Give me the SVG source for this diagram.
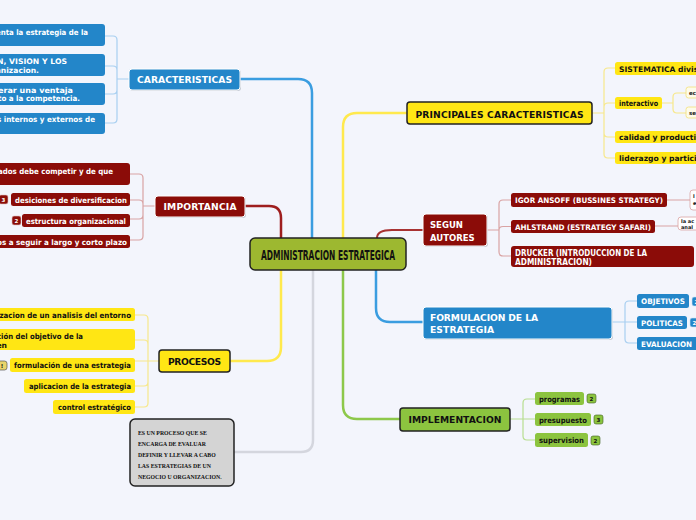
<svg xmlns="http://www.w3.org/2000/svg" width="696" height="520" viewBox="0 0 696 520">
<style>
.t{font-family:"DejaVu Sans",Verdana,"Liberation Sans",sans-serif;font-weight:bold}
.s7{font-size:7.6px}
.s9{font-size:9.2px}
.w{fill:#ffffff}
.k{fill:#111111}
.bl{fill:#2386c9}
.rd{fill:#8b0c08}
.ye{fill:#ffe614}
.gr{fill:#8cc43f}
.main{stroke:#ffffff;stroke-width:1}
.blk{stroke:#222222;stroke-width:1.5}
.c{fill:none;stroke-linecap:round}
.cb{stroke:#a8cff0;stroke-width:1.2}
.cr{stroke:#d9a3a3;stroke-width:1.2}
.cy{stroke:#f7e88a;stroke-width:1.2}
.cg{stroke:#b8de90;stroke-width:1.2}
.sh{fill:#9aa3b0;opacity:0.5}
.bd{font-size:5.5px;text-anchor:middle}
</style>
<rect x="0" y="0" width="696" height="520" fill="#f3f5fc"/>
<g id="connectors">
<path class="c" d="M312,238 V93 Q312,79 298,79 H240" stroke="#3a9de0" stroke-width="2.5"/>
<path class="c" d="M343,238 V127 Q343,113 357,113 H407" stroke="#ffe94d" stroke-width="2.5"/>
<path class="c" d="M281,238 V218 Q281,206 269,206 H245" stroke="#9e1e1e" stroke-width="2.5"/>
<path class="c" d="M377,238 C377,232 382,230 392,230 H423" stroke="#a83232" stroke-width="2"/>
<path class="c" d="M281,270 V347 Q281,361 267,361 H230" stroke="#ffe94d" stroke-width="2.5"/>
<path class="c" d="M313,270 V440 Q313,452 301,452 H234" stroke="#d4d6de" stroke-width="2.5"/>
<path class="c" d="M343,270 V405 Q343,419 357,419 H400" stroke="#8dc84a" stroke-width="2.5"/>
<path class="c" d="M376,270 V308 Q376,322 390,322 H423" stroke="#3a9de0" stroke-width="2.5"/>
<path class="c cb" d="M129,79 H117 M117,79 V40 Q117,36 113,36 H105 M117,79 V70 Q117,66 113,66 H105 M117,79 V90 Q117,94 113,94 H105 M117,79 V119 Q117,123 113,123 H105"/>
<path class="c cr" d="M155,206 H143 M143,206 V178 Q143,174 139,174 H130 M143,206 V204 Q143,200 139,200 H130 M143,206 V215 Q143,219 139,219 H130 M143,206 V236 Q143,240 139,240 H130"/>
<path class="c cy" d="M159,361 H148 M148,361 V319 Q148,315 144,315 H135 M148,361 V344 Q148,340 144,340 H135 M148,361 H135 M148,361 V382 Q148,386 144,386 H135 M148,361 V403 Q148,407 144,407 H135"/>
<path class="c cy" d="M592,113 H604 M604,113 V72 Q604,68 608,68 H615 M604,113 V107 Q604,103 608,103 H615 M604,113 V133 Q604,137 608,137 H615 M604,113 V154 Q604,158 608,158 H615"/>
<path class="c cy" d="M662,103 H673 M673,103 V97 Q673,93 677,93 H686 M673,103 V109 Q673,113 677,113 H686"/>
<path class="c cr" d="M487,230 H499 M499,230 V204 Q499,200 503,200 H511 M499,230 V230 Q499,226.5 503,226.5 H511 M499,230 V252 Q499,256 503,256 H511"/>
<path class="c cr" d="M667,200 H690 M655,226 H678"/>
<path class="c cb" d="M612,322 H625 M625,322 V305 Q625,301 629,301 H637 M625,322 H637 M625,322 V339 Q625,343 629,343 H637"/>
<path class="c cg" d="M510,419 H523 M523,419 V403 Q523,399 527,399 H535 M523,419 H535 M523,419 V436 Q523,440 527,440 H535"/>
</g>
<g id="central">
<rect x="250" y="238" width="156" height="32" rx="5" fill="#9db830" class="blk"/>
<text x="328" y="259.5" text-anchor="middle" font-family="'DejaVu Sans Condensed','DejaVu Sans',sans-serif" font-stretch="condensed" font-weight="bold" font-size="14.5" fill="#111" textLength="134" lengthAdjust="spacingAndGlyphs">ADMINISTRACION ESTRATEGICA</text>
</g>
<g id="caracteristicas">
<rect x="130" y="70" width="111" height="21" rx="3" class="sh"/>
<rect x="129" y="69" width="111" height="21" rx="3" class="bl main"/>
<text x="184.5" y="82.5" text-anchor="middle" class="t s9 w" textLength="95">CARACTERISTICAS</text>
</g>
<g id="car1"><rect x="-10" y="24" width="115" height="22" rx="3" class="bl"/><text x="88" y="35" text-anchor="end" class="t s7 w" textLength="92" lengthAdjust="spacingAndGlyphs">enta la estrategia de la</text></g>
<g id="car2"><rect x="-10" y="54" width="115" height="22" rx="3" class="bl"/><text x="67" y="64" text-anchor="end" class="t s7 w" textLength="70" lengthAdjust="spacingAndGlyphs">N, VISION Y LOS</text><text x="39" y="73" text-anchor="end" class="t s7 w">anizacion.</text></g>
<g id="car3"><rect x="-10" y="83" width="115" height="22" rx="3" class="bl"/><text x="73" y="93" text-anchor="end" class="t s7 w" textLength="75" lengthAdjust="spacingAndGlyphs">erar una ventaja</text><text x="80" y="101" text-anchor="end" class="t s7 w" textLength="82" lengthAdjust="spacingAndGlyphs">to a la competencia.</text></g>
<g id="car4"><rect x="-10" y="113" width="115" height="21" rx="3" class="bl"/><text x="95" y="122" text-anchor="end" class="t s7 w" textLength="98" lengthAdjust="spacingAndGlyphs">s internos y externos de</text></g>
<g id="importancia">
<rect x="156" y="197" width="90" height="21" rx="3" class="sh"/>
<rect x="155" y="196" width="90" height="21" rx="3" class="rd main"/>
<text x="200" y="209.5" text-anchor="middle" class="t s9 w" textLength="73">IMPORTANCIA</text>
</g>
<g id="imp1"><rect x="-10" y="163" width="140" height="22" rx="3" class="rd"/><text x="113" y="174" text-anchor="end" class="t s7 w" textLength="115" lengthAdjust="spacingAndGlyphs">ados debe competir y de que</text></g>
<g id="imp2"><rect x="11" y="193" width="119" height="13" rx="2.5" class="rd"/><text x="15" y="202.5" class="t s7 w" textLength="112" lengthAdjust="spacingAndGlyphs">desiciones de diversificacion</text>
<rect x="-1" y="195" width="9" height="9" rx="2" class="rd" stroke="#e0c0c0" stroke-width="0.6"/><text x="3.5" y="201.8" class="t bd w">3</text></g>
<g id="imp3"><rect x="22" y="214" width="108" height="13" rx="2.5" class="rd"/><text x="26" y="223.5" class="t s7 w" textLength="100" lengthAdjust="spacingAndGlyphs">estructura organizacional</text>
<rect x="12" y="216" width="9" height="9" rx="2" class="rd" stroke="#e0c0c0" stroke-width="0.6"/><text x="16.5" y="222.8" class="t bd w">2</text></g>
<g id="imp4"><rect x="-10" y="235" width="140" height="13" rx="2.5" class="rd"/><text x="127" y="244.5" text-anchor="end" class="t s7 w" textLength="130" lengthAdjust="spacingAndGlyphs">os a seguir a largo y corto plazo</text></g>
<g id="procesos">
<rect x="159" y="350" width="71" height="22" rx="3" class="ye blk"/>
<text x="194.5" y="364.5" text-anchor="middle" class="t s9 k" textLength="53">PROCESOS</text>
</g>
<g id="pro1"><rect x="-10" y="308" width="145" height="13" rx="2.5" class="ye"/><text x="131" y="317.5" text-anchor="end" class="t s7 k" textLength="134" lengthAdjust="spacingAndGlyphs">izacion de un analisis del entorno</text></g>
<g id="pro2"><rect x="-10" y="329" width="145" height="21" rx="3" class="ye"/><text x="83" y="339" text-anchor="end" class="t s7 k" textLength="86" lengthAdjust="spacingAndGlyphs">ción del objetivo de la</text><text x="7" y="347.5" text-anchor="end" class="t s7 k">en</text></g>
<g id="pro3"><rect x="10" y="358" width="125" height="14" rx="2.5" class="ye"/><text x="14" y="367.5" class="t s7 k" textLength="117" lengthAdjust="spacingAndGlyphs">formulación de una estrategia</text>
<rect x="-3" y="361" width="10" height="9" rx="2.5" fill="#e8d46a" stroke="#555" stroke-width="0.7"/><text x="2" y="368" class="t bd k">!</text></g>
<g id="pro4"><rect x="24" y="379" width="111" height="14" rx="2.5" class="ye"/><text x="29" y="388.5" class="t s7 k" textLength="102" lengthAdjust="spacingAndGlyphs">aplicacion de la estrategia</text></g>
<g id="pro5"><rect x="53" y="400" width="82" height="14" rx="2.5" class="ye"/><text x="58" y="409.5" class="t s7 k" textLength="73" lengthAdjust="spacingAndGlyphs">control estratégico</text></g>
<g id="nota">
<rect x="130" y="419" width="104" height="67" rx="5" fill="#d4d4d4" class="blk"/>
<g font-family="'Liberation Serif','Times New Roman',serif" font-weight="bold" font-size="5.8" fill="#111">
<text x="138" y="435">ES UN PROCESO QUE SE</text>
<text x="138" y="445.5">ENCARGA DE EVALUAR</text>
<text x="138" y="456.5">DEFINIR Y LLEVAR A CABO</text>
<text x="138" y="467.5">LAS ESTRATEGIAS DE UN</text>
<text x="138" y="478.5">NEGOCIO U ORGANIZACION.</text>
</g>
</g>
<g id="principales">
<rect x="407" y="102" width="185" height="22" rx="3" class="ye blk"/>
<text x="499.5" y="117.5" text-anchor="middle" class="t s9 k" textLength="168">PRINCIPALES CARACTERISTICAS</text>
</g>
<g id="pri1"><rect x="615" y="62" width="100" height="13" rx="2.5" class="ye"/><text x="619" y="71.5" class="t s7 k">SISTEMATICA divisi</text></g>
<g id="pri2"><rect x="615" y="97" width="47" height="12" rx="2.5" class="ye"/><text x="619" y="106" class="t s7 k" textLength="39" lengthAdjust="spacingAndGlyphs">interactivo</text></g>
<g id="pri2a"><rect x="686" y="87" width="20" height="11" rx="2.5" fill="#fdfbea" stroke="#f3e17a" stroke-width="0.8"/><text x="689" y="94.5" class="t k" font-size="5.5">ec</text></g>
<g id="pri2b"><rect x="686" y="107" width="20" height="11" rx="2.5" fill="#fdfbea" stroke="#f3e17a" stroke-width="0.8"/><text x="689" y="114.5" class="t k" font-size="5.5">se</text></g>
<g id="pri3"><rect x="615" y="131" width="90" height="12" rx="2.5" class="ye"/><text x="619" y="140" class="t s7 k">calidad y productivi</text></g>
<g id="pri4"><rect x="615" y="152" width="90" height="12" rx="2.5" class="ye"/><text x="619" y="161" class="t s7 k">liderazgo y participa</text></g>
<g id="segun">
<rect x="424" y="215" width="64" height="32" rx="3" class="sh"/>
<rect x="423" y="214" width="64" height="32" rx="3" class="rd main"/>
<text x="430" y="228" class="t w" font-size="8.5">SEGUN</text>
<text x="430" y="241" class="t w" font-size="8.5">AUTORES</text>
</g>
<g id="aut1"><rect x="511" y="193" width="156" height="14" rx="2.5" class="rd"/><text x="515" y="203" class="t s7 w" textLength="148" lengthAdjust="spacingAndGlyphs">IGOR ANSOFF (BUSSINES STRATEGY)</text></g>
<g id="aut1a"><rect x="690" y="190" width="14" height="20" rx="3" fill="#ffffff" stroke="#d9a3a3" stroke-width="0.8"/><text x="693" y="198" class="t k" font-size="5">l</text><text x="693" y="205" class="t k" font-size="5">e</text></g>
<g id="aut2"><rect x="511" y="220" width="144" height="13" rx="2.5" class="rd"/><text x="515" y="229.5" class="t s7 w" textLength="136" lengthAdjust="spacingAndGlyphs">AHLSTRAND (ESTRATEGY SAFARI)</text></g>
<g id="aut2a"><rect x="678" y="217" width="25" height="13" rx="3" fill="#ffffff" stroke="#d9a3a3" stroke-width="0.8"/><text x="681" y="223" class="t k" font-size="5">la ac</text><text x="681" y="228.5" class="t k" font-size="5">anal</text></g>
<g id="aut3"><rect x="511" y="246" width="183" height="21" rx="3" class="rd"/><text x="515" y="256" class="t w" font-size="8" textLength="132" lengthAdjust="spacingAndGlyphs">DRUCKER (INTRODUCCION DE LA</text><text x="515" y="265" class="t w" font-size="8" textLength="77" lengthAdjust="spacingAndGlyphs">ADMINISTRACION)</text></g>
<g id="formulacion">
<rect x="424" y="308" width="189" height="32" rx="3" class="sh"/>
<rect x="423" y="307" width="189" height="32" rx="3" class="bl main"/>
<text x="430" y="321" class="t s9 w" textLength="108">FORMULACION DE LA</text>
<text x="430" y="333" class="t s9 w" textLength="64">ESTRATEGIA</text>
</g>
<g id="for1"><rect x="637" y="294" width="52" height="14" rx="2.5" class="bl"/><text x="641" y="304" class="t s7 w" textLength="44" lengthAdjust="spacingAndGlyphs">OBJETIVOS</text>
<rect x="692" y="297" width="9" height="9" rx="2" class="bl" stroke="#cfe3f5" stroke-width="0.6"/><text x="696.5" y="303.8" class="t bd w">2</text></g>
<g id="for2"><rect x="637" y="316" width="50" height="13" rx="2.5" class="bl"/><text x="641" y="325.5" class="t s7 w" textLength="42" lengthAdjust="spacingAndGlyphs">POLITICAS</text>
<rect x="690" y="318" width="9" height="9" rx="2" class="bl" stroke="#cfe3f5" stroke-width="0.6"/><text x="694.5" y="324.8" class="t bd w">2</text></g>
<g id="for3"><rect x="637" y="337" width="65" height="13" rx="2.5" class="bl"/><text x="641" y="346.5" class="t s7 w" textLength="51" lengthAdjust="spacingAndGlyphs">EVALUACION</text></g>
<g id="implementacion">
<rect x="400" y="408" width="110" height="23" rx="3" class="gr blk"/>
<text x="455" y="423" text-anchor="middle" class="t s9 k" textLength="93">IMPLEMENTACION</text>
</g>
<g id="imp_a"><rect x="535" y="392" width="49" height="13" rx="2.5" class="gr"/><text x="539" y="401.5" class="t s7 k" textLength="41" lengthAdjust="spacingAndGlyphs">programas</text>
<rect x="587" y="394" width="9" height="9" rx="2" class="gr" stroke="#3d5e1c" stroke-width="0.6"/><text x="591.5" y="400.8" class="t bd k">2</text></g>
<g id="imp_b"><rect x="535" y="413" width="56" height="13" rx="2.5" class="gr"/><text x="539" y="422.5" class="t s7 k" textLength="48" lengthAdjust="spacingAndGlyphs">presupuesto</text>
<rect x="594" y="415" width="9" height="9" rx="2" class="gr" stroke="#3d5e1c" stroke-width="0.6"/><text x="598.5" y="421.8" class="t bd k">3</text></g>
<g id="imp_c"><rect x="535" y="433" width="53" height="14" rx="2.5" class="gr"/><text x="539" y="443" class="t s7 k" textLength="45" lengthAdjust="spacingAndGlyphs">supervision</text>
<rect x="591" y="436" width="9" height="9" rx="2" class="gr" stroke="#3d5e1c" stroke-width="0.6"/><text x="595.5" y="442.8" class="t bd k">2</text></g>
</svg>
